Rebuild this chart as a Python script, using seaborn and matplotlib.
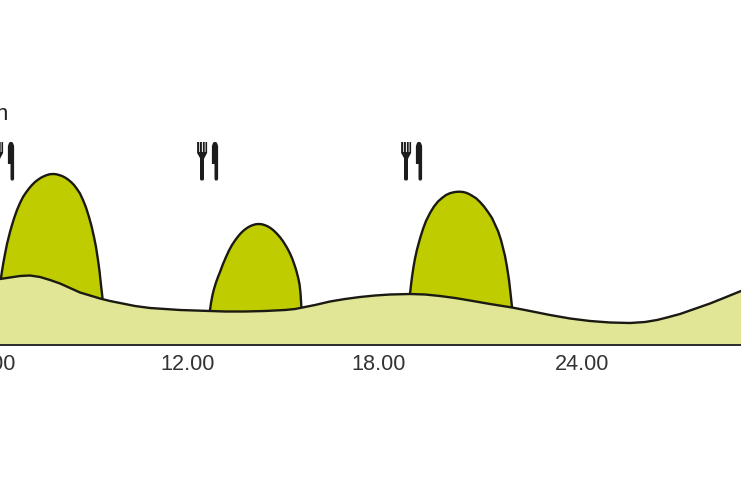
import matplotlib
matplotlib.use('Agg')
import matplotlib.pyplot as plt
import pandas as pd
import seaborn as sns
from matplotlib.patches import Polygon, FancyBboxPatch

# all x values are positions along the chart, y values are height above the baseline
base_x = [0, 10, 20, 30, 40, 50, 60, 70, 80, 90, 100, 110, 120, 135, 150, 165, 180, 195, 210, 225,
          245, 265, 285, 295, 305, 315, 330, 345, 360, 375, 390, 410, 425, 440, 455, 470, 490, 512, 525,
          550, 570, 590, 610, 630, 645, 657, 667, 680, 690, 710, 725, 741]
base_y = [66, 67.5, 69, 69.5, 68, 65, 61.5, 57, 52.5, 49.5, 46.5, 44, 42, 39, 37, 36, 35, 34.5, 34, 33.5,
          33.5, 34, 35, 36, 38, 40, 43.5, 46, 48, 49.5, 50.5, 51, 50.5, 49, 47, 44.5, 41, 37.5, 35,
          30, 26.5, 24, 22.5, 22, 23, 25, 27.5, 31, 34.5, 41.5, 47.5, 54]

hump1_x = [1, 2, 3.5, 5, 7, 10, 12, 14, 17, 20, 23, 26, 29, 32, 35, 38, 41, 44, 47, 50, 53, 56, 59, 62,
           65, 68, 71, 74, 77, 80, 83, 86, 89, 91.5, 94, 96, 98, 99.5, 101, 102.5]
hump1_y = [67, 74, 83, 91, 101, 113, 120, 126.5, 135, 142, 148, 152.5, 156.5, 160, 163, 165.3, 167.3, 168.8,
           170, 170.8, 171, 170.8, 170, 169, 167.5, 165.5, 163, 160, 156, 151.5, 145, 137.5, 128, 119,
           108, 98, 85, 74, 60, 47]

hump2_x = [210, 211, 212.5, 214, 216, 218, 220, 223, 226, 229, 232, 235, 238, 241, 244, 247, 250, 253,
           256, 259, 262, 265, 268, 271, 274, 277, 280, 283, 286, 288, 290, 292, 294, 296, 298, 299.5,
           300.5, 301.5]
hump2_y = [35, 42, 50, 56, 62.5, 68, 73, 81, 88, 94.5, 100, 104.5, 108.5, 112, 114.8, 117, 118.8, 120,
           120.8, 121, 120.7, 119.8, 118.5, 116.6, 114.2, 111.2, 107.8, 103.8, 99, 95.5, 91.5, 87, 81.5,
           75.5, 68, 61, 52, 36]

hump3_x = [410, 411, 412, 413.5, 415, 417, 420, 423, 426, 430, 434, 438, 442, 446, 450, 454, 457, 460,
           463, 466, 469, 472, 476, 480, 484, 488, 492, 495, 498, 501, 503, 505, 507, 509, 510.5, 512]
hump3_y = [51, 60, 68, 78, 86.5, 95.5, 106.5, 116, 124, 132, 138.5, 143.5, 147, 150, 151.8, 152.8, 153.2,
           153.3, 153, 152.3, 151, 149.3, 146.8, 143, 138.5, 133, 127, 120.5, 114, 105, 97, 89, 78, 65,
           52, 38]

tick_positions = [-5, 188, 379, 582]
tick_labels = ['6.00', '12.00', '18.00', '24.00']
meal_positions = [3.5, 207.5, 411.5]

LINE = '#1a1a12'
HUMP = '#bfcc00'
BASE = '#e1e596'
BASE_LINE = 345  # px from top of the picture

sns.set_theme(style='white')
plt.rcParams['font.family'] = ['Liberation Sans', 'DejaVu Sans']

fig = plt.figure(figsize=(7.41, 4.86), dpi=100)
ax = fig.add_axes([0, (486 - BASE_LINE) / 486, 1, BASE_LINE / 486])

for xs, ys in [(hump1_x, hump1_y), (hump2_x, hump2_y), (hump3_x, hump3_y)]:
    ax.fill_between(xs, ys, 0, color=HUMP, lw=0, zorder=1)
    hump = pd.DataFrame({'x': xs, 'y': ys})
    sns.lineplot(data=hump, x='x', y='y', sort=False, errorbar=None, color=LINE, lw=1.7, ax=ax, zorder=2)

ax.fill_between(base_x, base_y, 0, color=BASE, lw=0, zorder=3)
base = pd.DataFrame({'x': base_x, 'y': base_y})
sns.lineplot(data=base, x='x', y='y', sort=False, errorbar=None, color=LINE, lw=1.7, ax=ax, zorder=4)


def draw_cutlery(c):
    """Fork and knife icon, c is the centre of the icon."""
    dark = '#1c1c1c'
    # fork head, four tines
    ax.add_patch(Polygon([(c - 10.4, 203), (c - 10.4, 192), (c - 7, 186), (c - 3.6, 186), (c - 0.4, 192),
                          (c - 0.4, 203), (c - 2, 203), (c - 2, 193), (c - 2.8, 193), (c - 2.8, 203),
                          (c - 4.6, 203), (c - 4.6, 193), (c - 5.6, 193), (c - 5.6, 203), (c - 7.6, 203),
                          (c - 7.6, 193), (c - 8.4, 193), (c - 8.4, 203)],
                         closed=True, fc=dark, ec='none', zorder=5))
    ax.add_patch(FancyBboxPatch((c - 7.5, 164.5), 4, 26, boxstyle='round,pad=0,rounding_size=1.6',
                                fc=dark, ec='none', zorder=5))
    # knife, one shape: wide blade on top of a narrow handle
    ax.add_patch(Polygon([(c + 4.4, 181), (c + 4.4, 199), (c + 5.6, 202.4), (c + 7.4, 203.2), (c + 9.4, 202.4),
                          (c + 10.6, 199), (c + 10.6, 166), (c + 9.8, 164.5), (c + 7.8, 164.5), (c + 7, 166),
                          (c + 7, 181)],
                         closed=True, fc=dark, ec='none', zorder=5))


for pos in meal_positions:
    draw_cutlery(pos)

for pos, label in zip(tick_positions, tick_labels):
    ax.text(pos, -20, label, ha='center', va='center', fontsize=15.6, color='#333333', clip_on=False)

ax.text(7.5, 225, 'n', ha='right', va='baseline', fontsize=16, color='#222222')

ax.set_xlim(0, 741)
ax.set_ylim(0, BASE_LINE)
ax.set_xticks([])
ax.set_yticks([])
ax.set_xlabel('')
ax.set_ylabel('')
sns.despine(ax=ax, left=True)
ax.spines['bottom'].set_color('#2b2b2b')
ax.spines['bottom'].set_linewidth(1.4)
ax.spines['bottom'].set_zorder(6)
ax.patch.set_alpha(0)

fig.savefig('out.png', dpi=100)
